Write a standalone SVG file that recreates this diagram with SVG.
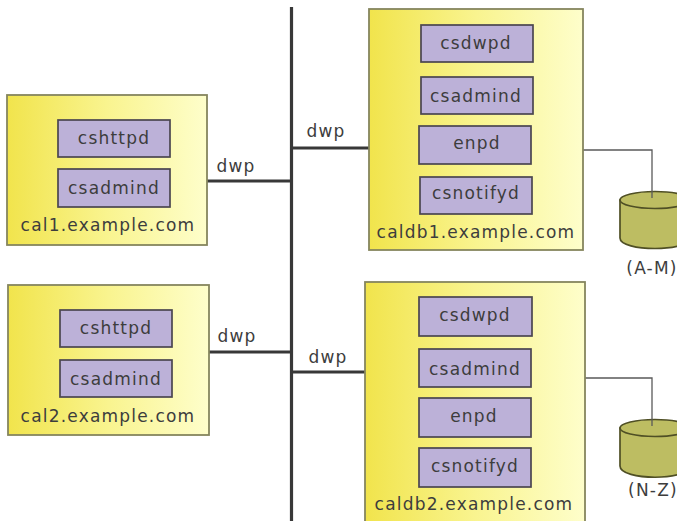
<svg xmlns="http://www.w3.org/2000/svg" width="677" height="521" viewBox="0 0 677 521">
<style>
.host{stroke:#85855e;stroke-width:1.8}
.proc{fill:#bcb1d8;stroke:#4a4650;stroke-width:1.7}
text{font-family:"DejaVu Sans",sans-serif;font-size:17px;letter-spacing:1.2px;fill:#3d3d3d;text-anchor:middle}
.bus{stroke:#383838;stroke-width:3.2;fill:none}
.thin{stroke:#5a5a5a;stroke-width:1.3;fill:none}
.db{fill:#bdbd62;stroke:#4f4f25;stroke-width:1.7}
</style>
<defs><linearGradient id="y"><stop offset="0" stop-color="#f1e44c"/><stop offset="0.5" stop-color="#f9f48f"/><stop offset="1" stop-color="#fefecb"/></linearGradient></defs>
<rect width="677" height="521" fill="#fff"/>
<g id="connectors">
<path class="bus" d="M291.5 7V521M207 181H291M291 148H369M209 352H292M291 372H366"/>
<path class="thin" d="M583 150H652V198M585 378H652V426"/>
</g>
<g id="cal1"><rect class="host" x="7" y="95" width="200" height="150" fill="url(#y)"/>
<rect class="proc" x="58" y="120" width="112" height="37"/><text x="114" y="144">cshttpd</text>
<rect class="proc" x="58" y="169" width="112" height="38"/><text x="114" y="194">csadmind</text>
<text x="108" y="231">cal1.example.com</text></g>
<g id="cal2"><rect class="host" x="8" y="285" width="201" height="150" fill="url(#y)"/>
<rect class="proc" x="60" y="310" width="112" height="37"/><text x="116" y="334">cshttpd</text>
<rect class="proc" x="60" y="360" width="112" height="37"/><text x="116" y="385">csadmind</text>
<text x="108" y="422">cal2.example.com</text></g>
<g id="caldb1"><rect class="host" x="369" y="9" width="214" height="241" fill="url(#y)"/>
<rect class="proc" x="421" y="25" width="112" height="37"/><text x="476" y="49">csdwpd</text>
<rect class="proc" x="421" y="77" width="112" height="37"/><text x="476" y="102">csadmind</text>
<rect class="proc" x="419" y="126" width="112" height="38"/><text x="477" y="149">enpd</text>
<rect class="proc" x="420" y="177" width="112" height="37"/><text x="476" y="199">csnotifyd</text>
<text x="476" y="238">caldb1.example.com</text></g>
<g id="caldb2"><rect class="host" x="365" y="282" width="220" height="245" fill="url(#y)"/>
<rect class="proc" x="419" y="297" width="113" height="39"/><text x="475" y="321">csdwpd</text>
<rect class="proc" x="419" y="349" width="112" height="38"/><text x="475" y="375">csadmind</text>
<rect class="proc" x="419" y="398" width="112" height="39"/><text x="474" y="422">enpd</text>
<rect class="proc" x="419" y="448" width="112" height="39"/><text x="475" y="472">csnotifyd</text>
<text x="474" y="510">caldb2.example.com</text></g>
<g id="dbam"><path class="db" d="M620 200V238C620 252 690 252 690 238V200Z"/><ellipse class="db" cx="655" cy="200" rx="35" ry="8.5"/><path class="thin" d="M652 191V198"/></g>
<g id="dbnz"><path class="db" d="M620 428V466C620 481 690 481 690 466V428Z"/><ellipse class="db" cx="655" cy="428" rx="35" ry="8.5"/><path class="thin" d="M652 419V426"/></g>
<g id="labels">
<text x="236" y="172">dwp</text><text x="326" y="137">dwp</text><text x="237" y="342">dwp</text><text x="328" y="363">dwp</text>
<text x="652" y="274">(A-M)</text><text x="653" y="496">(N-Z)</text>
</g>
</svg>
